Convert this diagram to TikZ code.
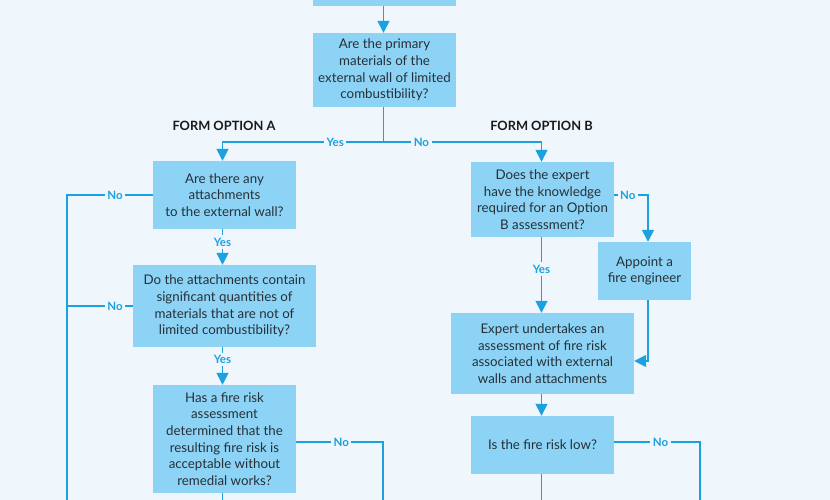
\documentclass[tikz,border=0pt]{standalone}
\usepackage{fontspec}
\setmainfont{Lato}
\usepackage{tikz}
\usetikzlibrary{positioning}
\usetikzlibrary{arrows.meta}

\definecolor{pagebg}{RGB}{240,247,252}
\definecolor{boxfill}{RGB}{141,211,245}
\definecolor{flowline}{RGB}{27,160,224}
\definecolor{boxtext}{RGB}{38,48,56}

\begin{document}
\begin{tikzpicture}[x=1pt,y=-1pt]

\tikzset{flow box/.style={
		fill=boxfill,
		text=boxtext,
		align=center,
		inner sep=0pt,
		font=\fontsize{13.3}{16.6}\selectfont
	},
	link/.style={draw=flowline, line width=1.6pt},
	tip/.style={link, -{Triangle[width=12pt,length=12pt]}},
	yes no/.style={font=\bfseries\fontsize{11.5}{13}\selectfont, text=flowline,
		fill=pagebg, inner sep=2.5pt},
	option head/.style={font=\bfseries\fontsize{12.8}{14}\selectfont, text=black!90}
}
\fill[pagebg] (0,0) rectangle (830,500);
\clip (0,0) rectangle (830,500);

% boxes
\node[flow box, minimum width=143pt, minimum height=52pt] (start) at (384.5,-20) {};
\node[flow box, minimum width=143pt, minimum height=74pt] (primary) at (384.5,70)
	{Are the primary\\materials of the\\external wall of limited\\combustibility?};

\node[option head] (headA) at (224,126) {FORM OPTION A};
\node[option head] (headB) at (541.5,126) {FORM OPTION B};

\node[flow box, minimum width=143pt, minimum height=68pt] (attach) at (224.5,195)
	{Are there any\\attachments\\to the external wall?};
\node[flow box, minimum width=183pt, minimum height=82pt] (signif) at (224.5,306)
	{Do the attachments contain\\significant quantities of\\materials that are not of\\limited combustibility?};
\node[flow box, minimum width=143pt, minimum height=108pt] (fra) at (224.5,439)
	{Has a fire risk\\assessment\\determined that the\\resulting fire risk is\\acceptable without\\remedial works?};

\node[flow box, minimum width=143pt, minimum height=75pt] (expert) at (542.5,199.5)
	{Does the expert\\have the knowledge\\required for an Option\\B assessment?};
\node[flow box, minimum width=93pt, minimum height=58pt] (appoint) at (644.5,271)
	{Appoint a\\fire engineer};
\node[flow box, minimum width=183pt, minimum height=81pt] (undertake) at (542.5,353.5)
	{Expert undertakes an\\assessment of fire risk\\associated with external\\walls and attachments};
\node[flow box, minimum width=143pt, minimum height=58pt] (low) at (542.5,445)
	{Is the fire risk low?};

% loose ends
\coordinate (split) at (383.5,142);
\coordinate (leftrun) at (67,510);
\coordinate (nofra) at (383,510);
\coordinate (nolow) at (700,510);
\coordinate (endA) at (222.5,510);
\coordinate (endB) at (541.5,510);

% connectors
\draw[tip] (start.south -| split) -- (primary.north -| split);
\draw[link] (primary.south -| split) -- (split);
\draw[tip] (split) -| node[yes no, pos=0.15] {Yes} ([xshift=-2pt]attach.north);
\draw[tip] (split) -| node[yes no, pos=0.12] {No} ([xshift=-1pt]expert.north);

\draw[link] (attach.west) -| node[yes no, pos=0.22] {No} (leftrun);
\draw[link] (signif.west) -- node[yes no, pos=0.27] {No} (signif.west -| leftrun);
\draw[tip] ([xshift=-2pt]attach.south) -- node[yes no, pos=0.36] {Yes} ([xshift=-2pt]signif.north);
\draw[tip] ([xshift=-2pt]signif.south) -- node[yes no, pos=0.32] {Yes} ([xshift=-2pt]fra.north);
\draw[link] ([yshift=-3pt]fra.east) -| node[yes no, pos=0.26] {No} (nofra);
\draw[link] ([xshift=-2pt]fra.south) -- (endA);

\draw[tip] ([yshift=4.5pt]expert.east) -| node[yes no, pos=0.2] {No} ([xshift=3.5pt]appoint.north);
\draw[tip] ([xshift=3.5pt]appoint.south) |- ([yshift=-7.5pt]undertake.east);
\draw[tip] ([xshift=-1pt]expert.south) -- node[yes no, pos=0.42] {Yes} ([xshift=-1pt]undertake.north);
\draw[tip] ([xshift=-1pt]undertake.south) -- ([xshift=-1pt]low.north);
\draw[link] ([yshift=3pt]low.east) -| node[yes no, pos=0.27] {No} (nolow);
\draw[link] ([xshift=-1pt]low.south) -- (endB);

\end{tikzpicture}
\end{document}
